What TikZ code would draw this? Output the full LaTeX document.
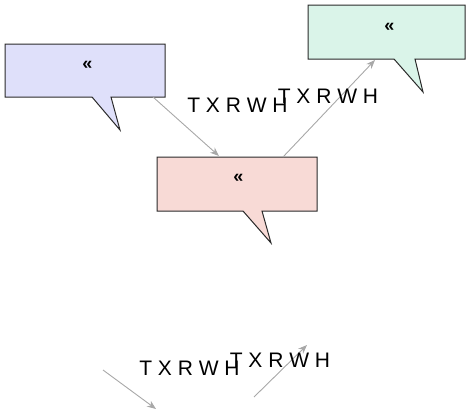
\documentclass[tikz,border=0pt]{standalone}
\usepackage{fontspec}
\setmainfont{Liberation Sans}
\usetikzlibrary{arrows.meta}
\definecolor{bluefill}{HTML}{DFE0FA}
\definecolor{redfill}{HTML}{F8DAD6}
\definecolor{greenfill}{HTML}{DAF4E9}
\definecolor{edge}{HTML}{2A2A2A}
\definecolor{conn}{HTML}{A8A8A8}
\tikzset{
  callout/.style={draw=edge, line width=1pt, line join=miter},
  mark label/.style={font=\bfseries\fontsize{18}{20}\selectfont, inner sep=0pt},
  conn line/.style={draw=conn, line width=0.9pt, -{Stealth[length=9pt,width=7pt]}},
  conn text/.style={font=\fontsize{21}{24}\selectfont, inner sep=0pt, anchor=center},
}
\begin{document}
\begin{tikzpicture}[x=1pt,y=-1pt]
\useasboundingbox (0,0) rectangle (467,410);
% callouts
\path[callout, fill=bluefill] (5,44) -- (165,44) -- (165,97) -- (111,97) -- (120,130) -- (92,97) -- (5,97) -- cycle;
\path[callout, fill=redfill] (157,157) -- (317,157) -- (317,211) -- (262,211) -- (271,243) -- (243,211) -- (157,211) -- cycle;
\path[callout, fill=greenfill] (308,5) -- (465,5) -- (465,59) -- (415,59) -- (423,92) -- (394,59) -- (308,59) -- cycle;
\node[mark label] (m1) at (87.5,65) {«};
\node[mark label] (m2) at (238.5,178) {«};
\node[mark label] (m3) at (389.5,27) {«};
% connector ends
\coordinate (a1s) at (153,97);
\coordinate (a1e) at (219,156);
\coordinate (a2s) at (283,157);
\coordinate (a2e) at (375,60);
\coordinate (b1s) at (103,370);
\coordinate (b1e) at (156,409);
\coordinate (b2s) at (254,397);
\coordinate (b2e) at (307,345);
\draw[conn line] (a1s) -- (a1e);
\draw[conn line] (a2s) -- (a2e);
\draw[conn line] (b1s) -- (b1e);
\draw[conn line] (b2s) -- (b2e);
\node[conn text] (t1) at (237.5,105.5) {T X R W H};
\node[conn text] (t2) at (328,96) {T X R W H};
\node[conn text] (t3) at (189.5,368) {T X R W H};
\node[conn text] (t4) at (280,360.5) {T X R W H};
\end{tikzpicture}
\end{document}
